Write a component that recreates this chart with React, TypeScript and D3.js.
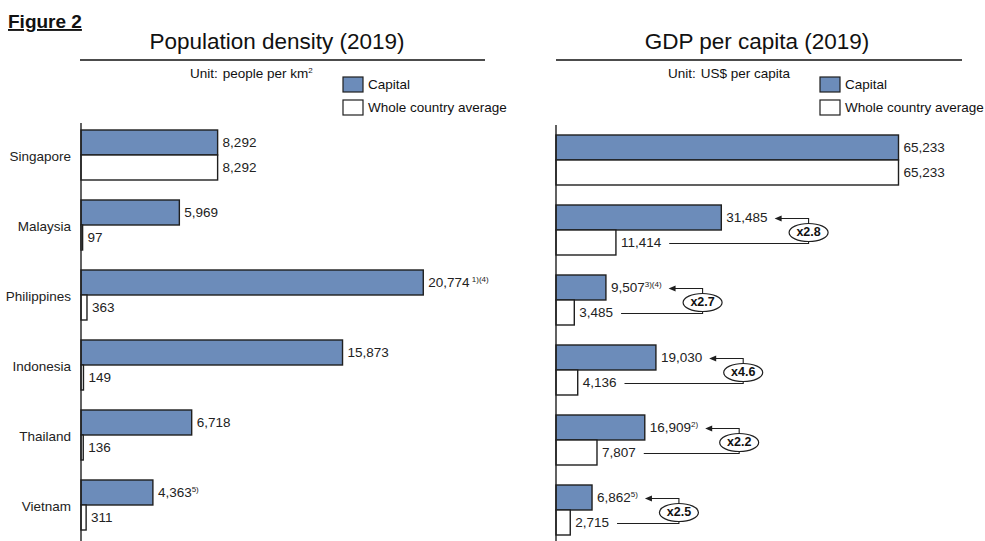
import React from "react";
import * as d3 from "d3";

const countries = ["Singapore", "Malaysia", "Philippines", "Indonesia", "Thailand", "Vietnam"];
const densityCapital = [8292, 5969, 20774, 15873, 6718, 4363];
const densityCountry = [8292, 97, 363, 149, 136, 311];
const densityCapitalNotes = ["", "", " 1)(4)", "", "", "5)"];
const gdpCapital = [65233, 31485, 9507, 19030, 16909, 6862];
const gdpCountry = [65233, 11414, 3485, 4136, 7807, 2715];
const gdpCapitalNotes = ["", "", "3)(4)", "", "2)", "5)"];
const gdpRatios = ["", "x2.8", "x2.7", "x4.6", "x2.2", "x2.5"];
const seriesNames = ["Capital", "Whole country average"];

const FONT = "'Liberation Sans', Arial, Helvetica, sans-serif";
const BLUE = "#6C8CBA";
const INK = "#1f1f1f";
const LABEL = 13.5;
const SUP = 8;

let ctx: CanvasRenderingContext2D | null = null;
function measure(text: string, size: number, weight = "normal"): number {
  if (!ctx) {
    const c = document.createElement("canvas");
    ctx = c.getContext("2d");
  }
  if (!ctx) return text.length * size * 0.55;
  ctx.font = `${weight} ${size}px ${FONT}`;
  return ctx.measureText(text).width;
}

const fmt = d3.format(",");

type PanelProps = {
  title: string;
  titleX: number;
  lineX: [number, number];
  unitX: number;
  unit: string;
  unitSup?: string;
  legendX: number;
  x0: number;
  maxDomain: number;
  bandRange: [number, number];
  axisTop: number;
  capital: number[];
  country: number[];
  notes: string[];
  ratios?: string[];
  showCountries?: boolean;
};

function Panel(p: PanelProps) {
  const x = d3.scaleLinear().domain([0, p.maxDomain]).range([p.x0, p.x0 + 346]);
  const y = d3
    .scaleBand<string>()
    .domain(countries)
    .range(p.bandRange)
    .paddingInner(20 / 70)
    .paddingOuter(10 / 70);
  const ys = d3.scaleBand<string>().domain(["cap", "whole"]).range([0, y.bandwidth()]);
  const bh = ys.bandwidth();

  return (
    <g fontFamily={FONT}>
      <text x={p.titleX} y={49} fontSize={22.5} textAnchor="middle" fill="#111">
        {p.title}
      </text>
      <line x1={p.lineX[0]} x2={p.lineX[1]} y1={60} y2={60} stroke="#111" strokeWidth={1.5} />
      <text x={p.unitX} y={78} fontSize={13.5} fill="#111">
        Unit:
        <tspan dx={5}>{p.unit}</tspan>
        {p.unitSup ? (
          <tspan fontSize={8} dy={-5}>
            {p.unitSup}
          </tspan>
        ) : null}
      </text>
      {seriesNames.map((s, i) => (
        <g key={s}>
          <rect
            x={p.legendX}
            y={77 + i * 23}
            width={20}
            height={15}
            fill={i === 0 ? BLUE : "#fff"}
            stroke={INK}
            strokeWidth={1.2}
          />
          <text x={p.legendX + 25} y={89 + i * 23} fontSize={13.5} fill="#111">
            {s}
          </text>
        </g>
      ))}
      {countries.map((c, i) => {
        const top = y(c)!;
        const capY = top + ys("cap")!;
        const whY = top + ys("whole")!;
        const capEnd = x(p.capital[i]);
        const whEnd = x(p.country[i]);
        const capLabel = fmt(p.capital[i]);
        const whLabel = fmt(p.country[i]);
        const capLabelX = capEnd + 5;
        const whLabelX = whEnd + 5;
        const capW = measure(capLabel, LABEL) + (p.notes[i] ? measure(p.notes[i], SUP) : 0);
        const whW = measure(whLabel, LABEL);
        const ratio = p.ratios ? p.ratios[i] : "";
        const capLineY = capY + bh / 2 + 1;
        const whLineY = whY + bh / 2 + 1;
        const tip = capLabelX + capW + 7;
        const xc = tip + 34;
        return (
          <g key={c}>
            {p.showCountries ? (
              <text x={71} y={top + y.bandwidth() / 2 + 2} fontSize={LABEL} textAnchor="end" dominantBaseline="middle" fill="#222">
                {c}
              </text>
            ) : null}
            <rect x={x(0)} y={capY} width={capEnd - x(0)} height={bh} fill={BLUE} stroke={INK} strokeWidth={1.4} />
            <rect x={x(0)} y={whY} width={whEnd - x(0)} height={bh} fill="#fff" stroke={INK} strokeWidth={1.4} />
            <text x={capLabelX} y={capY + bh / 2 + 1} fontSize={LABEL} dominantBaseline="middle" fill="#222">
              {capLabel}
              {p.notes[i] ? (
                <tspan fontSize={SUP} dy={-4}>
                  {p.notes[i]}
                </tspan>
              ) : null}
            </text>
            <text x={whLabelX} y={whY + bh / 2 + 1} fontSize={LABEL} dominantBaseline="middle" fill="#222">
              {whLabel}
            </text>
            {ratio ? (
              <g>
                <path
                  d={`M${whLabelX + whW + 8},${whLineY}H${xc}V${capLineY}H${tip + 6}`}
                  fill="none"
                  stroke={INK}
                  strokeWidth={1.1}
                />
                <path d={`M${tip},${capLineY}L${tip + 7},${capLineY - 3}L${tip + 7},${capLineY + 3}Z`} fill={INK} />
                <ellipse
                  cx={xc}
                  cy={(capLineY + whLineY) / 2 + 1.5}
                  rx={19.5}
                  ry={9}
                  fill="#fff"
                  stroke={INK}
                  strokeWidth={1.2}
                />
                <text
                  x={xc}
                  y={(capLineY + whLineY) / 2 + 2}
                  fontSize={12.5}
                  fontWeight="bold"
                  textAnchor="middle"
                  dominantBaseline="middle"
                  fill="#111"
                >
                  {ratio}
                </text>
              </g>
            ) : null}
          </g>
        );
      })}
      <line x1={x(0)} x2={x(0)} y1={p.axisTop} y2={541} stroke={INK} strokeWidth={1.4} />
    </g>
  );
}

export default function App() {
  return (
    <svg width={985} height={541} style={{ position: "absolute", left: 0, top: 0, background: "#fff" }}>
      <rect x={0} y={0} width={985} height={541} fill="#fff" />
      <text x={8} y={28} fontFamily={FONT} fontSize={19} fontWeight="bold" fill="#111" textDecoration="underline">
        Figure 2
      </text>
      <Panel
        title="Population density (2019)"
        titleX={277}
        lineX={[80, 485]}
        unitX={190}
        unit="people per km"
        unitSup="2"
        legendX={343}
        x0={81}
        maxDomain={21000}
        bandRange={[120, 540]}
        axisTop={123}
        capital={densityCapital}
        country={densityCountry}
        notes={densityCapitalNotes}
        showCountries
      />
      <Panel
        title="GDP per capita (2019)"
        titleX={757}
        lineX={[556, 962]}
        unitX={668}
        unit="US$ per capita"
        legendX={820}
        x0={556}
        maxDomain={65900}
        bandRange={[125, 545]}
        axisTop={125}
        capital={gdpCapital}
        country={gdpCountry}
        notes={gdpCapitalNotes}
        ratios={gdpRatios}
      />
    </svg>
  );
}
